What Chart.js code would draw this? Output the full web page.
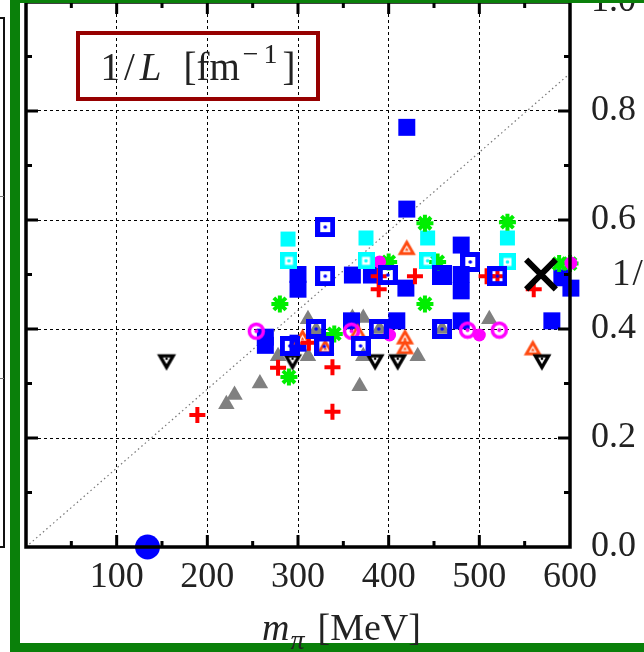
<!DOCTYPE html>
<html>
<head>
<meta charset="utf-8">
<script src="https://cdn.jsdelivr.net/npm/chart.js@4.4.0/dist/chart.umd.min.js"></script>
<style>
  html, body { margin: 0; padding: 0; background: #fff; }
  #wrap { position: relative; width: 644px; height: 652px; overflow: hidden;
          font-family: "Liberation Serif", "Times New Roman", serif; color: #222; }
  #plot { position: absolute; left: 0; top: 0; }
  .green { position: absolute; left: 10px; top: 0; width: 660px; height: 652px; box-sizing: border-box;
           border-left: 10px solid #0a800a; border-top: 3px solid #0a800a; border-bottom: 9px solid #0a800a; }
  .prev { position: absolute; left: -10px; top: 17px; width: 15px; height: 531px; box-sizing: border-box;
          border: 2px solid #111; border-left: none; }
  .tk { position: absolute; left: 0; width: 4px; height: 1px; background: #777; }
  .lbox { position: absolute; left: 76px; top: 31px; width: 244px; height: 70px; box-sizing: border-box;
          border: 4px solid #960000; display: flex; align-items: center; justify-content: center;
          font-size: 39px; white-space: nowrap; line-height: 1; }
  .lbox .sl { margin: 0 5px 0 4px; }
  .lbox .br { margin-left: 22px; }
  .lbox sup { font-size: 28px; letter-spacing: 5px; margin-left: 3px; position: relative; top: -3px; vertical-align: super; line-height: 0; }
  .xt { position: absolute; left: 262px; top: 608px; font-size: 38px; white-space: nowrap; line-height: 1; }
  .xt sub { font-size: 28px; vertical-align: sub; line-height: 0; margin-left: 1px; }
  .xt .br { margin-left: 13px; }
  .yt { position: absolute; left: 612px; top: 254px; font-size: 37px; white-space: nowrap; line-height: 1; }
  .yt .sl { margin-left: 2px; margin-right: 8px; }
</style>
</head>
<body>
<div id="wrap">
  <canvas id="plot" width="644" height="652"></canvas>
  <div class="prev"></div>
  <div class="tk" style="top:196px"></div>
  <div class="tk" style="top:378px"></div>
  <div class="green"></div>
  <div class="lbox"><span>1<span class="sl">/</span><i>L</i><span class="br">[fm</span><sup>−1</sup>]</span></div>
  <div class="yt">1<span class="sl">/</span><i>L</i></div>
  <div class="xt"><i>m</i><sub><i>π</i></sub><span class="br">[MeV]</span></div>
</div>
<script>
// m_pi [MeV] and 1/L [fm^-1], one pair of arrays per symbol
const fillSqM = [420, 420, 300, 300, 360, 381, 419, 459, 480, 480, 480, 591, 601, 580, 264, 264, 300, 359, 409, 480];
const fillSqL = [0.77, 0.62, 0.50, 0.473, 0.499, 0.499, 0.475, 0.499, 0.554, 0.50, 0.47, 0.494, 0.475, 0.415, 0.385, 0.37, 0.374, 0.415, 0.415, 0.415];
const openSqM = [330, 330, 399, 459, 490, 520, 320, 329, 369, 291, 389, 459];
const openSqL = [0.587, 0.497, 0.499, 0.499, 0.523, 0.497, 0.40, 0.368, 0.369, 0.369, 0.40, 0.40];
const cyanSqM = [289, 375, 443, 531];
const cyanSqL = [0.565, 0.567, 0.567, 0.567];
const cyanOpenM = [290, 375, 443, 531];
const cyanOpenL = [0.525, 0.525, 0.525, 0.523];
const plusM = [189, 278, 338, 338, 312, 389, 389, 429, 508, 520, 560];
const plusL = [0.242, 0.329, 0.33, 0.248, 0.375, 0.497, 0.473, 0.497, 0.497, 0.497, 0.473];
const starM = [280, 290, 340, 440, 440, 454, 400, 531, 588, 600];
const starL = [0.446, 0.312, 0.391, 0.594, 0.446, 0.523, 0.523, 0.596, 0.52, 0.52];
const grayM = [221, 230, 258, 278, 311, 311, 320, 360, 372, 372, 368, 390, 432, 459, 511];
const grayL = [0.262, 0.279, 0.30, 0.35, 0.35, 0.418, 0.398, 0.42, 0.42, 0.35, 0.295, 0.40, 0.35, 0.40, 0.418];
const orangeM = [420, 418, 418, 330, 305, 366, 559];
const orangeL = [0.549, 0.385, 0.367, 0.367, 0.385, 0.395, 0.365];
const invTriM = [155, 294, 385, 410, 569];
const invTriL = [0.34, 0.34, 0.34, 0.34, 0.34];
const ringM = [254, 359, 487, 522];
const ringL = [0.396, 0.396, 0.398, 0.398];
const dotM = [401, 500, 390, 601];
const dotL = [0.389, 0.389, 0.523, 0.521];
const crossM = [568];
const crossL = [0.50];
const physM = [134];
const physL = [0.0];
const diagM = [0, 600];
const diagL = [0, 0.869];

const xTicks = [100, 200, 300, 400, 500, 600];
const yTicks = [0.0, 0.2, 0.4, 0.6, 0.8, 1.0];

const pts = (ms, ls) => ms.map((m, i) => ({ x: m, y: ls[i] }));

// small canvases used as point symbols
function mark(size, draw) {
  const c = document.createElement('canvas');
  c.width = c.height = size;
  draw(c.getContext('2d'), size);
  return c;
}
function openSquare(color, s, bw) {
  return mark(s, (g) => {
    g.strokeStyle = color; g.lineWidth = bw;
    g.strokeRect(bw / 2, bw / 2, s - bw, s - bw);
    g.fillStyle = color;
    g.beginPath(); g.arc(s / 2, s / 2, 1.8, 0, Math.PI * 2); g.fill();
  });
}
function tri(g, cx, cy, r, down, color) {
  const d = down ? -1 : 1;
  g.fillStyle = color;
  g.beginPath();
  g.moveTo(cx, cy - d * r);
  g.lineTo(cx + r * 0.866, cy + d * r / 2);
  g.lineTo(cx - r * 0.866, cy + d * r / 2);
  g.closePath(); g.fill();
}
const orangeTri = mark(21, (g, s) => {
  tri(g, s / 2, s / 2 + 2, 10.5, false, '#ff4a10');
  tri(g, s / 2, s / 2 + 2, 4.6, false, '#fff');
  tri(g, s / 2, s / 2 + 2, 2.2, false, '#ff4a10');
});
const blackInv = mark(22, (g, s) => {
  tri(g, s / 2, s / 2 - 2, 11, true, '#000');
  tri(g, s / 2, s / 2 - 2, 4.3, true, '#fff');
  g.fillStyle = '#000';
  g.beginPath(); g.arc(s / 2, s / 2 - 3, 1.3, 0, Math.PI * 2); g.fill();
});
const magRing = mark(19, (g, s) => {
  g.strokeStyle = '#ff00ff'; g.lineWidth = 3.5;
  g.beginPath(); g.arc(s / 2, s / 2, 7, 0, Math.PI * 2); g.stroke();
  g.fillStyle = '#ff00ff';
  g.beginPath(); g.arc(s / 2, s / 2, 2, 0, Math.PI * 2); g.fill();
});
const blueOpen = openSquare('#0000ff', 20, 5);
const cyanOpen = openSquare('#00ffff', 17, 4.5);

function sym(data, style, radius, fill, border, bw) {
  return {
    type: 'scatter', data: data, clip: false,
    pointStyle: style, pointRadius: radius,
    pointBackgroundColor: fill, pointBorderColor: border || fill,
    pointBorderWidth: bw || 0
  };
}

// frame with inward ticks on all four sides
const frame = {
  id: 'frame',
  afterDatasetsDraw(chart) {
    const { ctx, chartArea: a, scales: { x, y } } = chart;
    ctx.save();
    ctx.strokeStyle = '#000';
    ctx.lineWidth = 3;
    ctx.beginPath();
    for (let m = 50; m < 600; m += 50) {
      const px = x.getPixelForValue(m);
      const len = m % 100 === 0 ? 12 : 6;
      ctx.moveTo(px, a.bottom); ctx.lineTo(px, a.bottom - len);
      ctx.moveTo(px, a.top); ctx.lineTo(px, a.top + len);
    }
    for (let k = 1; k < 10; k++) {
      const py = y.getPixelForValue(k / 10);
      const len = k % 2 === 0 ? 12 : 6;
      ctx.moveTo(a.left, py); ctx.lineTo(a.left + len, py);
      ctx.moveTo(a.right, py); ctx.lineTo(a.right - len, py);
    }
    ctx.stroke();
    ctx.lineWidth = 3.5;
    ctx.strokeRect(a.left, a.top, a.right - a.left, a.bottom - a.top);
    ctx.restore();
  }
};

// y labels: tiny line height and no tick padding (the gap comes from an invisible
// tick instead), so the top label does not push the plot area down
const xFont = { family: '"Liberation Serif", serif', size: 36 };
const yFont = { family: '"Liberation Serif", serif', size: 36, lineHeight: 0.02 };

new Chart(document.getElementById('plot'), {
  data: {
    datasets: [
      sym(pts(crossM, crossL), 'crossRot', 21, '#000', '#000', 6),
      sym(pts(physM, physL), 'circle', 12.5, '#0000ff'),
      sym(pts(openSqM, openSqL), blueOpen, 10),
      sym(pts(cyanOpenM, cyanOpenL), cyanOpen, 9),
      sym(pts(plusM, plusL), 'cross', 8, '#ff0000', '#ff0000', 4),
      sym(pts(ringM, ringL), magRing, 9),
      sym(pts(dotM, dotL), 'circle', 6.5, '#ff00ff'),
      sym(pts(invTriM, invTriL), blackInv, 10),
      sym(pts(orangeM, orangeL), orangeTri, 10),
      sym(pts(starM, starL), 'star', 8.5, '#00ee00', '#00ee00', 4),
      sym(pts(cyanSqM, cyanSqL), 'rect', 10.6, '#00ffff'),
      sym(pts(fillSqM, fillSqL), 'rect', 12, '#0000ff'),
      sym(pts(grayM, grayL), 'triangle', 9.5, '#808080'),
      {
        type: 'line', data: pts(diagM, diagL),
        borderColor: '#777', borderWidth: 1.2, borderDash: [1.5, 3],
        pointRadius: 0, fill: false
      }
    ]
  },
  options: {
    responsive: false,
    animation: false,
    layout: { autoPadding: false, padding: { left: 26, top: 2, right: 0, bottom: 0 } },
    plugins: { legend: { display: false }, tooltip: { enabled: false } },
    scales: {
      x: {
        type: 'linear', min: 0, max: 600,
        afterBuildTicks: (s) => { s.ticks = [0].concat(xTicks).map(v => ({ value: v })); },
        afterFit: (s) => { s.height = 105; },
        ticks: {
          autoSkip: false, maxRotation: 0, padding: 9, color: '#222', font: xFont,
          callback: (v) => (v === 0 ? '' : String(v))
        },
        grid: { color: '#000', lineWidth: 1, drawTicks: false },
        border: { display: false, dash: [3, 3] }
      },
      y: {
        type: 'linear', position: 'right', min: 0, max: 1,
        afterBuildTicks: (s) => { s.ticks = yTicks.map(v => ({ value: v })); },
        afterFit: (s) => { s.width = 74; s.paddingTop = 0; s.paddingBottom = 0; },
        ticks: {
          autoSkip: false, padding: 0, color: '#222', font: yFont,
          callback: (v) => v.toFixed(1)
        },
        grid: { color: '#000', lineWidth: 1, drawTicks: true, tickLength: 21, tickColor: 'rgba(0,0,0,0)' },
        border: { display: false, dash: [3, 3] }
      }
    }
  },
  plugins: [frame]
});
</script>
</body>
</html>
